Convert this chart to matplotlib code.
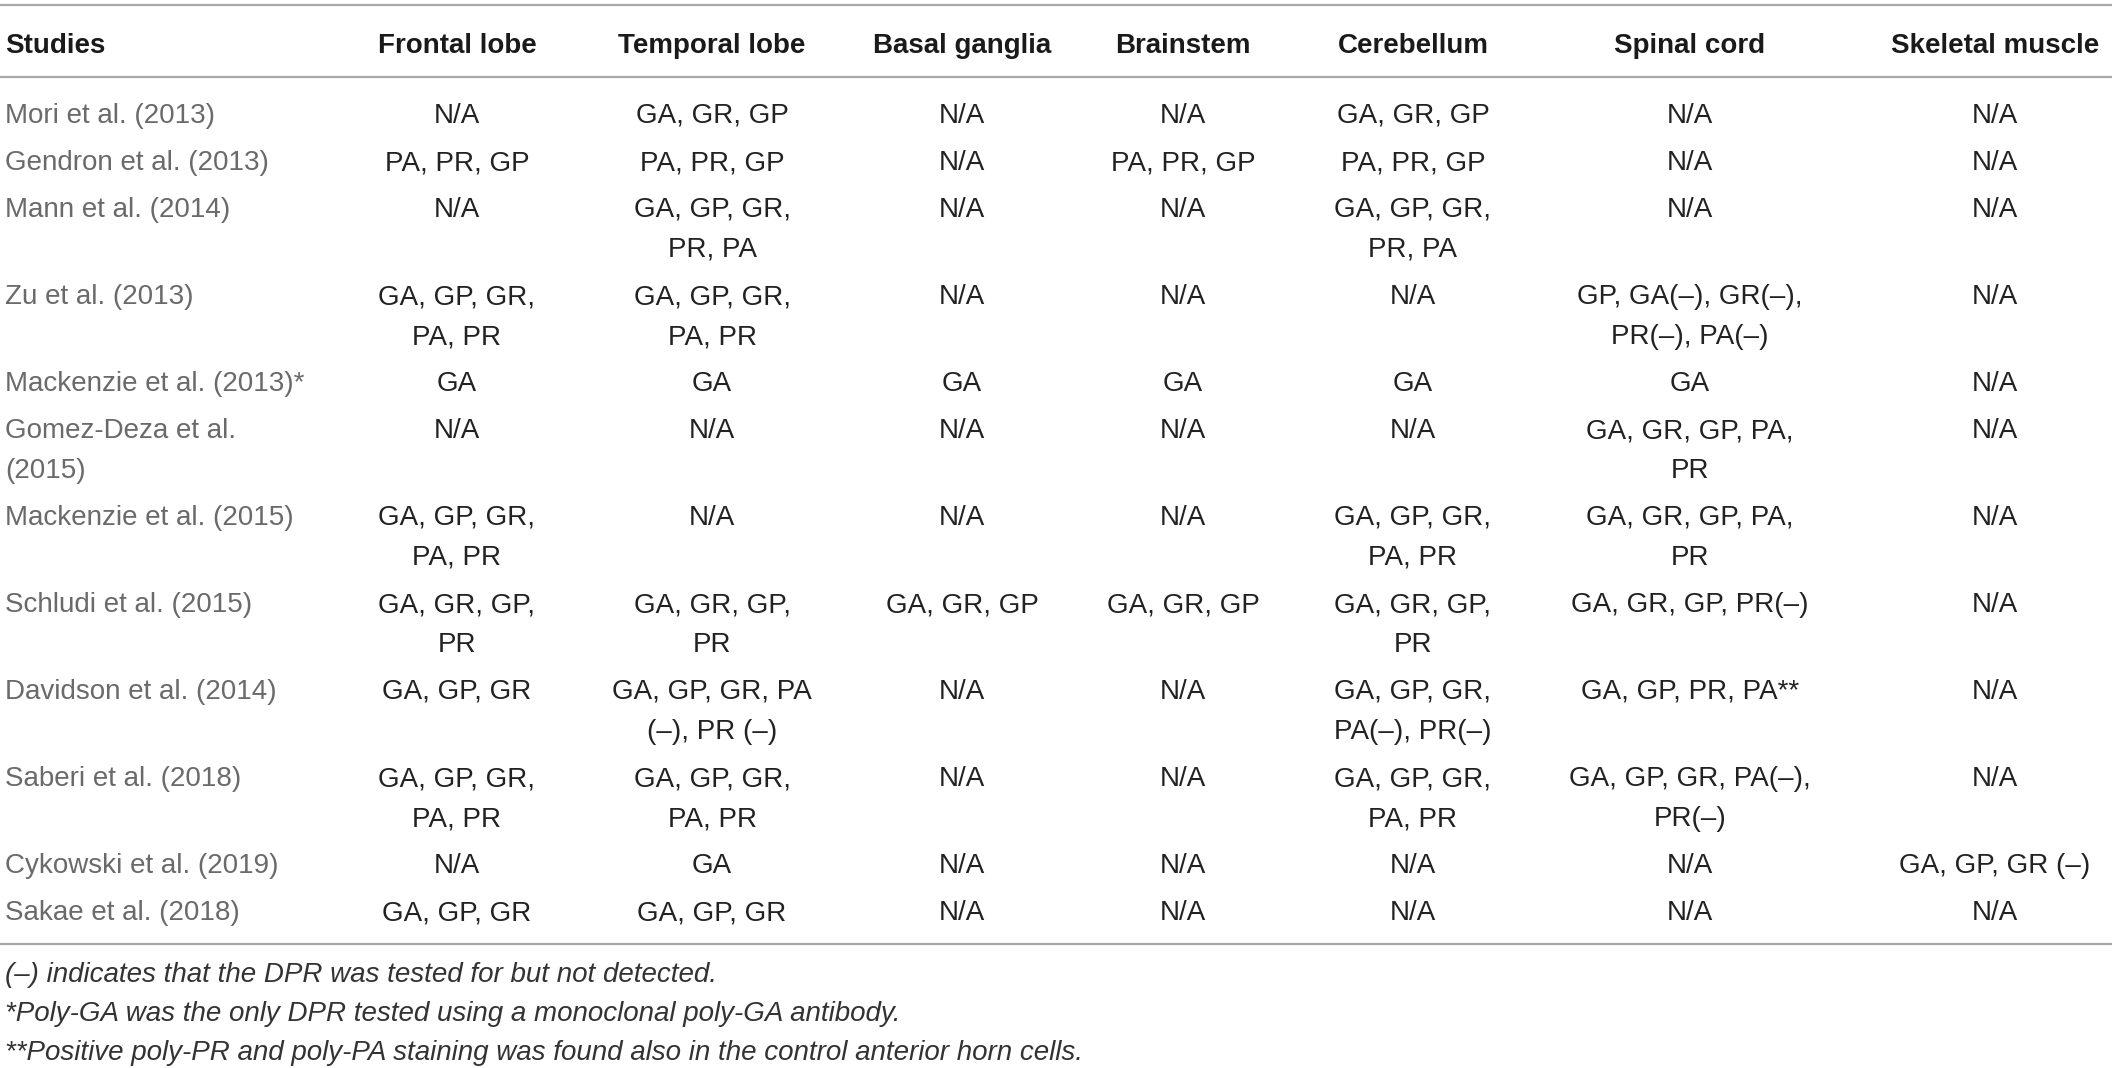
import matplotlib.pyplot as plt

plt.rcParams['font.family'] = ['Liberation Sans', 'DejaVu Sans']

# table content
columns = ['Studies', 'Frontal lobe', 'Temporal lobe', 'Basal ganglia', 'Brainstem',
           'Cerebellum', 'Spinal cord', 'Skeletal muscle']
studies = ['Mori et al. (2013)', 'Gendron et al. (2013)', 'Mann et al. (2014)',
           'Zu et al. (2013)', 'Mackenzie et al. (2013)*', 'Gomez-Deza et al.\n(2015)',
           'Mackenzie et al. (2015)', 'Schludi et al. (2015)', 'Davidson et al. (2014)',
           'Saberi et al. (2018)', 'Cykowski et al. (2019)', 'Sakae et al. (2018)']
frontal = ['N/A', 'PA, PR, GP', 'N/A', 'GA, GP, GR,\nPA, PR', 'GA', 'N/A',
           'GA, GP, GR,\nPA, PR', 'GA, GR, GP,\nPR', 'GA, GP, GR', 'GA, GP, GR,\nPA, PR',
           'N/A', 'GA, GP, GR']
temporal = ['GA, GR, GP', 'PA, PR, GP', 'GA, GP, GR,\nPR, PA', 'GA, GP, GR,\nPA, PR', 'GA',
            'N/A', 'N/A', 'GA, GR, GP,\nPR', 'GA, GP, GR, PA\n(\u2013), PR (\u2013)',
            'GA, GP, GR,\nPA, PR', 'GA', 'GA, GP, GR']
basal = ['N/A', 'N/A', 'N/A', 'N/A', 'GA', 'N/A', 'N/A', 'GA, GR, GP', 'N/A', 'N/A',
         'N/A', 'N/A']
brainstem = ['N/A', 'PA, PR, GP', 'N/A', 'N/A', 'GA', 'N/A', 'N/A', 'GA, GR, GP', 'N/A',
             'N/A', 'N/A', 'N/A']
cerebellum = ['GA, GR, GP', 'PA, PR, GP', 'GA, GP, GR,\nPR, PA', 'N/A', 'GA', 'N/A',
              'GA, GP, GR,\nPA, PR', 'GA, GR, GP,\nPR', 'GA, GP, GR,\nPA(\u2013), PR(\u2013)',
              'GA, GP, GR,\nPA, PR', 'N/A', 'N/A']
spinal = ['N/A', 'N/A', 'N/A', 'GP, GA(\u2013), GR(\u2013),\nPR(\u2013), PA(\u2013)', 'GA',
          'GA, GR, GP, PA,\nPR', 'GA, GR, GP, PA,\nPR', 'GA, GR, GP, PR(\u2013)',
          'GA, GP, PR, PA**', 'GA, GP, GR, PA(\u2013),\nPR(\u2013)', 'N/A', 'N/A']
muscle = ['N/A', 'N/A', 'N/A', 'N/A', 'N/A', 'N/A', 'N/A', 'N/A', 'N/A', 'N/A',
          'GA, GP, GR (\u2013)', 'N/A']
footnotes = ['(\u2013) indicates that the DPR was tested for but not detected.',
             '*Poly-GA was the only DPR tested using a monoclonal poly-GA antibody.',
             '**Positive poly-PR and poly-PA staining was found also in the control anterior horn cells.']

W, H = 2117, 1068
fig = plt.figure(figsize=(W / 100, H / 100), dpi=100)
ax = fig.add_axes([0, 0, 1, 1])
ax.set_xlim(0, W)
ax.set_ylim(H, 0)
ax.axis('off')

col_x = [5, 457, 712, 962, 1183, 1413, 1690, 1995]
fs = 20
rule_c = '#a8a8a8'
cap = 10  # half cap height, px

for y in (5, 77, 944):
    ax.plot([0, 2112], [y, y], color=rule_c, lw=1.6, solid_capstyle='butt')

# header
for i, c in enumerate(columns):
    ax.text(col_x[i], 43 + cap, c, ha='left' if i == 0 else 'center', va='baseline',
            fontsize=fs, fontweight='bold', color='#1a1a1a')

# body
body = [frontal, temporal, basal, brainstem, cerebellum, spinal, muscle]
y = 113
line_h = 40
for r in range(len(studies)):
    cells = [studies[r]] + [col[r] for col in body]
    nmax = 1
    for i, cell in enumerate(cells):
        lines = cell.split('\n')
        nmax = max(nmax, len(lines))
        for k, ln in enumerate(lines):
            ax.text(col_x[i], y + k * line_h + cap, ln,
                    ha='left' if i == 0 else 'center', va='baseline', fontsize=fs,
                    color='#6a6a6a' if i == 0 else '#222222')
    y += 47 + 40 * (nmax - 1)

# notes
for k, note in enumerate(footnotes):
    ax.text(5, 972 + k * 39 + cap, note, ha='left', va='baseline', fontsize=fs,
            fontstyle='italic', color='#333333')

fig.savefig('out.png', dpi=100)
